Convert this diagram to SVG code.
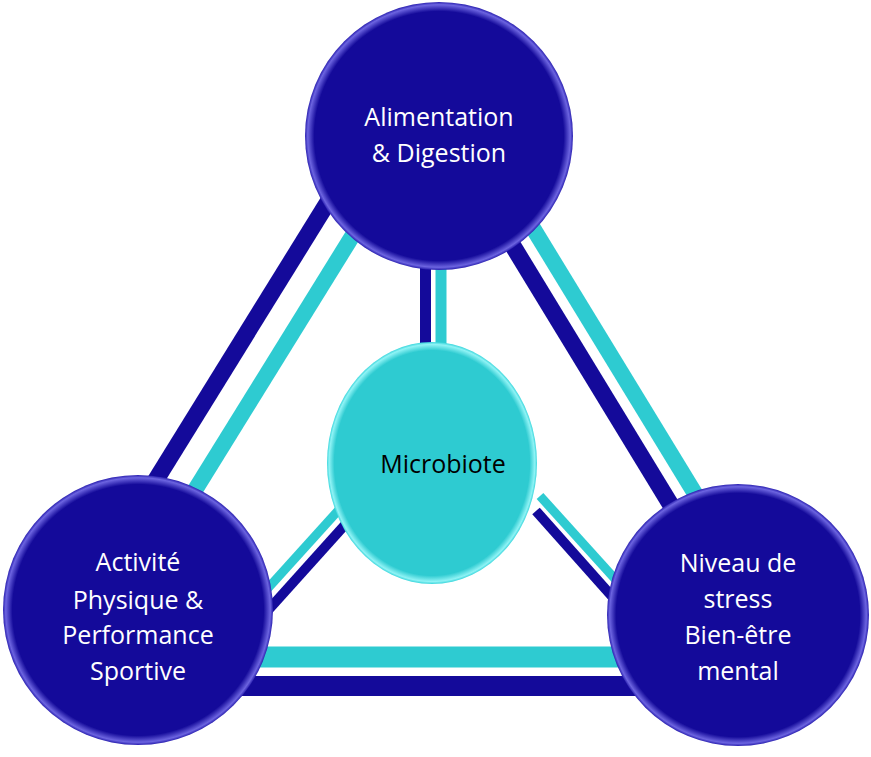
<svg xmlns="http://www.w3.org/2000/svg" width="871" height="757" viewBox="0 0 871 757">
<defs>
<radialGradient id="rimD" cx="0.5" cy="0.5" r="0.5">
<stop offset="0.93" stop-color="#140A9A"/><stop offset="0.98" stop-color="#6C64E0"/><stop offset="1" stop-color="#2A20B0"/>
</radialGradient>
<radialGradient id="rimC" cx="0.5" cy="0.5" r="0.5">
<stop offset="0.93" stop-color="#2ECBD1"/><stop offset="0.98" stop-color="#8FF3F5"/><stop offset="1" stop-color="#3AD6DC"/>
</radialGradient>
</defs>
<style>
.d{stroke:#140A9A;fill:none}
.c{stroke:#2ECBD1;fill:none}
.t{font-family:"Open Sans","DejaVu Sans",sans-serif;font-size:25px;fill:#fff;text-anchor:middle}
.m{font-family:"Open Sans","DejaVu Sans",sans-serif;font-size:25px;fill:#000;text-anchor:middle}
</style>
<g id="connectors">
<line class="d" x1="336" y1="189" x2="141" y2="504" stroke-width="17"/>
<line class="c" x1="366" y1="214" x2="187" y2="503" stroke-width="16"/>
<line class="d" x1="502" y1="228" x2="680" y2="520" stroke-width="17"/>
<line class="c" x1="525" y1="215" x2="705" y2="510" stroke-width="16"/>
<line class="d" x1="425.5" y1="260" x2="425.5" y2="350" stroke-width="11"/>
<line class="c" x1="441" y1="260" x2="441" y2="350" stroke-width="11"/>
<line class="c" x1="345" y1="503" x2="260" y2="597" stroke-width="9"/>
<line class="d" x1="352" y1="517" x2="262" y2="617" stroke-width="10"/>
<line class="c" x1="540" y1="496" x2="625" y2="590" stroke-width="9"/>
<line class="d" x1="536" y1="511" x2="625" y2="611" stroke-width="10"/>
<line class="c" x1="250" y1="657" x2="630" y2="657" stroke-width="21"/>
<line class="d" x1="240" y1="686" x2="640" y2="686" stroke-width="20"/>
</g>
<g id="n-top">
<circle cx="439" cy="136" r="134" fill="url(#rimD)"/>
<text class="t" x="439" y="126">Alimentation</text>
<text class="t" x="439" y="162">&amp; Digestion</text>
</g>
<g id="n-left">
<circle cx="138" cy="610" r="135" fill="url(#rimD)"/>
<text class="t" x="138" y="571">Activité</text>
<text class="t" x="138" y="609">Physique &amp;</text>
<text class="t" x="138" y="644">Performance</text>
<text class="t" x="138" y="680">Sportive</text>
</g>
<g id="n-right">
<circle cx="738" cy="615" r="131" fill="url(#rimD)"/>
<text class="t" x="738" y="572">Niveau de</text>
<text class="t" x="738" y="608">stress</text>
<text class="t" x="738" y="644">Bien-être</text>
<text class="t" x="738" y="680">mental</text>
</g>
<g id="n-center">
<ellipse cx="432" cy="463" rx="105" ry="121" fill="url(#rimC)"/>
<text class="m" x="443" y="473">Microbiote</text>
</g>
</svg>
